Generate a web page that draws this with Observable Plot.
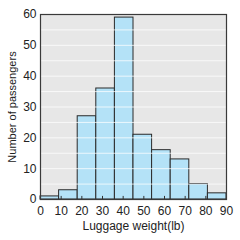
<!DOCTYPE html>
<html>
<head>
<meta charset="utf-8">
<script src="https://cdn.jsdelivr.net/npm/d3@7"></script>
<script src="https://cdn.jsdelivr.net/npm/@observablehq/plot@0.6"></script>
<style>
  html, body { margin: 0; padding: 0; background: #ffffff; }
  #chart { width: 240px; height: 240px; }
</style>
</head>
<body>
<div id="chart"></div>
<script>
// Bin edges (in axis units) and passenger counts
const binStart = [0, 9, 18, 27, 36, 45, 54, 63, 72, 81];
const binEnd   = [9, 18, 27, 36, 45, 54, 63, 72, 81, 90];
const counts   = [1, 3, 27, 36, 59, 21, 16, 13, 5, 2];
const xTicks = [0, 10, 20, 30, 40, 50, 60, 70, 80, 90];
const yTicks = [0, 10, 20, 30, 40, 50, 60];
const gridY  = [5, 10, 15, 20, 25, 30, 35, 40, 45, 50, 55];
const xTitle = "Luggage weight(lb)";
const yTitle = "Number of passengers";

const bins = binStart.map((s, i) => ({x1: s, x2: binEnd[i], n: counts[i]}));

const chart = Plot.plot({
  width: 240,
  height: 240,
  marginTop: 14,
  marginRight: 14,
  marginBottom: 41,
  marginLeft: 40,
  style: {fontFamily: "Liberation Sans, Arial, sans-serif", fontSize: "12px", color: "#222", background: "transparent"},
  x: {domain: [0, 90]},
  y: {domain: [0, 60]},
  marks: [
    Plot.frame({fill: "#e7e7e7", stroke: null}),
    Plot.rectY(bins, {x1: "x1", x2: "x2", y: "n", fill: "#b4e2f7", stroke: "#2a2a2a", strokeWidth: 1}),
    Plot.ruleY(gridY, {stroke: "#ffffff", strokeOpacity: 0.75, strokeWidth: 1}),
    Plot.ruleX(xTicks, {y1: 0, y2: 1, stroke: "#333"}),
    Plot.frame({stroke: "#3a3a3a", strokeWidth: 1.2}),
    Plot.axisX(xTicks, {tickSize: 0, tickPadding: 7, label: null, fontSize: 12}),
    Plot.axisY(yTicks, {tickSize: 0, tickPadding: 4, label: null, fontSize: 12}),
    Plot.text([xTitle], {frameAnchor: "bottom", dy: 30, fontSize: 12, fill: "#222"}),
    Plot.text([yTitle], {frameAnchor: "left", textAnchor: "middle", rotate: -90, dx: -28, fontSize: 11, fill: "#222"})
  ]
});
document.getElementById("chart").appendChild(chart);
</script>
</body>
</html>
